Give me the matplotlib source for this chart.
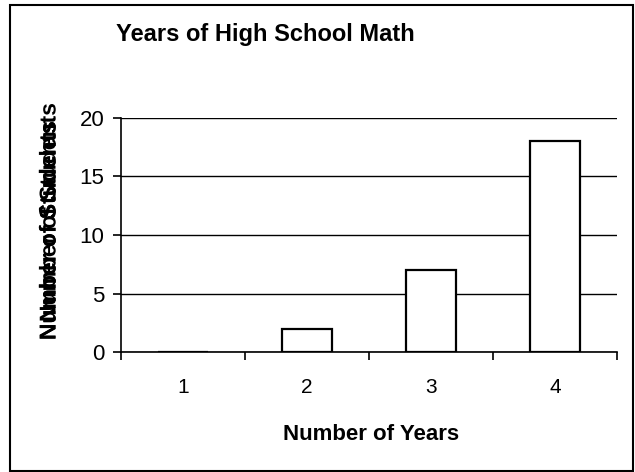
import matplotlib.pyplot as plt
import matplotlib.patheffects as pe
from matplotlib.patches import Rectangle

# datos del grafico
years = ["1", "2", "3", "4"]
students = [0, 2, 7, 18]
y_ticks = [0, 5, 10, 15, 20]

plt.rcParams['font.family'] = ['Liberation Sans', 'DejaVu Sans']

fig = plt.figure(figsize=(6.35, 4.72), dpi=100)
ax = fig.add_axes([121 / 635, 1 - 352 / 472, 496 / 635, 234 / 472])

x = list(range(len(years)))
ax.bar(x, students, width=0.4, color="white", edgecolor="black", linewidth=1.6, zorder=3)

ax.set_xlim(-0.5, len(years) - 0.5)
ax.set_ylim(0, 20)
ax.set_yticks(y_ticks)
ax.set_yticklabels([str(v) for v in y_ticks], fontsize=16)
ax.yaxis.grid(True, color="black", linewidth=1)
ax.set_axisbelow(True)

# ticks del eje x en los limites de cada categoria
ax.set_xticks([i - 0.5 for i in range(len(years) + 1)])
ax.set_xticklabels([])
ax.set_xticks(x, minor=True)
ax.set_xticklabels(years, minor=True, fontsize=15)
ax.tick_params(axis="x", which="minor", length=0, pad=19)
ax.tick_params(axis="x", which="major", length=6, width=1.2, direction="out")
ax.tick_params(axis="y", length=6, width=1.2, direction="out", pad=6)

for s in ["top", "right"]:
    ax.spines[s].set_visible(False)
ax.spines["left"].set_linewidth(1.2)
ax.spines["bottom"].set_linewidth(1.2)

# titulos y etiquetas
fig.text(265 / 635, 1 - 41 / 472, "Years of High School Math", fontsize=17,
         fontweight="bold", ha="center", va="baseline")
fig.text(371 / 635, 1 - 434 / 472, "Number of Years", fontsize=16,
         fontweight="bold", ha="center", va="center")

# etiqueta del eje y, sobreimpresa como en el original
fig.text(49 / 635, 1 - 231 / 472, "Number of Students", fontsize=16.5,
         fontweight="bold", rotation=90, ha="center", va="center",
         path_effects=[pe.withSimplePatchShadow(offset=(0, 13), shadow_rgbFace="black", alpha=1),
                       pe.Normal()])

# marco exterior
fig.add_artist(Rectangle((10 / 635, 1 / 472), 623 / 635, 466 / 472, transform=fig.transFigure,
                         fill=False, edgecolor="black", linewidth=1.5))

fig.savefig("out.png", dpi=100)
